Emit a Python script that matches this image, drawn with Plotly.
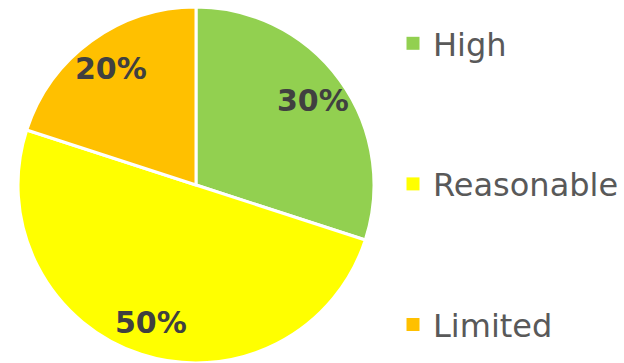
import math
import plotly.graph_objects as go

labels = ["High", "Reasonable", "Limited"]
values = [30, 50, 20]
colors = ["#92D050", "#FFFF00", "#FFC000"]

W, H = 624, 363
cx, cy, R = 196, 185, 178
dom = dict(x=[(cx - R) / W, (cx + R) / W], y=[1 - (cy + R) / H, 1 - (cy - R) / H])

fig = go.Figure()
fig.add_trace(go.Pie(
    labels=labels, values=values, sort=False, direction="clockwise", rotation=0,
    marker=dict(colors=colors, line=dict(color="white", width=3)),
    textinfo="none", showlegend=False, domain=dom, hoverinfo="label+percent",
))

# data labels at mid-angle of each slice
total = sum(values)
cum = 0
label_r = 0.81 * R
for v in values:
    mid = (cum + v / 2) / total * 2 * math.pi
    cum += v
    px = cx + label_r * math.sin(mid)
    py = cy - label_r * math.cos(mid)
    fig.add_annotation(x=px / W, y=1 - py / H, xref="paper", yref="paper",
                       text=f"{round(100 * v / total)}%", showarrow=False,
                       font=dict(family="DejaVu Sans", size=30, color="#404040", weight="bold"),
                       xanchor="center", yanchor="middle")

for lab, col in zip(labels, colors):
    fig.add_trace(go.Scatter(x=[None], y=[None], mode="markers", name=lab,
                             marker=dict(symbol="square", size=13, color=col),
                             legendgroup=lab, showlegend=True))

fig.update_layout(
    width=W, height=H, margin=dict(l=0, r=0, t=0, b=0),
    paper_bgcolor="white", plot_bgcolor="white",
    xaxis=dict(visible=False), yaxis=dict(visible=False),
    legend=dict(x=393 / W, xanchor="left", y=1 - 16 / H, yanchor="top",
                font=dict(family="DejaVu Sans", size=32, color="#595959"),
                traceorder="grouped", tracegroupgap=96, bgcolor="rgba(0,0,0,0)"),
)
fig.write_html("out.html")
